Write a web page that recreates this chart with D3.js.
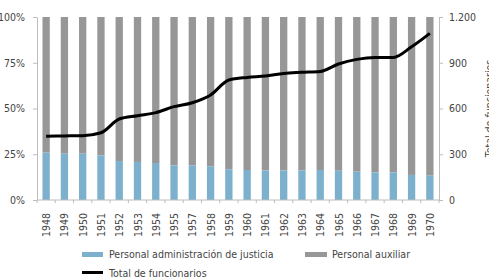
<!DOCTYPE html>
<html>
<head>
<meta charset="utf-8">
<script src="https://cdn.jsdelivr.net/npm/d3@7"></script>
<style>
  html, body { margin: 0; padding: 0; background: #fff; }
  svg { display: block; }
  text { font-family: "Liberation Sans Narrow", "DejaVu Sans Condensed", "Open Sans", sans-serif; fill: #444; }
</style>
</head>
<body>
<svg id="chart" width="489" height="279"></svg>
<script>
const years = ["1948","1949","1950","1951","1952","1953","1954","1955","1957","1958","1959","1960","1961","1962","1963","1964","1965","1966","1967","1968","1969","1970"];
const justiciaPct = [25.9,25.3,25.3,24.4,21.3,20.8,20.2,18.9,18.9,18.4,16.8,16.4,16.2,16.2,16.2,16.4,16.0,15.5,15.1,15.1,13.7,13.3];
const auxiliarPct = justiciaPct.map(v => 100 - v);
const totalFuncionarios = [418,420,422,441,531,553,573,612,638,689,787,804,813,830,837,843,892,922,935,935,1005,1093];
const leftTicks = [0,25,50,75,100];
const rightTicks = [0,300,600,900,1200];
const seriesNames = ["Personal administración de justicia","Personal auxiliar","Total de funcionarios"];
const colors = { justicia: "#7cb0cc", auxiliar: "#979797", total: "#000000", axis: "#bdbdbd" };
const FS = "10.5px";

const svg = d3.select("#chart");
const m = { left: 37, right: 439, top: 17, bottom: 200 };

const x = d3.scaleBand().domain(years).range([m.left, m.right]).paddingInner(0.6).paddingOuter(0.3);
const yL = d3.scaleLinear().domain([0,100]).range([m.bottom, m.top]);
const yR = d3.scaleLinear().domain([0,1200]).range([m.bottom, m.top]);

// bars
const data = years.map((y,i) => ({ year: y, j: justiciaPct[i], a: auxiliarPct[i], t: totalFuncionarios[i] }));
const g = svg.append("g");
g.selectAll("rect.aux").data(data).enter().append("rect")
  .attr("x", d => x(d.year)).attr("width", x.bandwidth())
  .attr("y", d => yL(d.j + d.a)).attr("height", d => yL(d.j) - yL(d.j + d.a))
  .attr("fill", colors.auxiliar);
g.selectAll("rect.jus").data(data).enter().append("rect")
  .attr("x", d => x(d.year)).attr("width", x.bandwidth())
  .attr("y", d => yL(d.j)).attr("height", d => yL(0) - yL(d.j))
  .attr("fill", colors.justicia);

// line
const line = d3.line().x(d => x(d.year) + x.bandwidth()/2).y(d => yR(d.t)).curve(d3.curveMonotoneX);
svg.append("path").datum(data).attr("d", line).attr("fill","none")
  .attr("stroke", colors.total).attr("stroke-width", 3).attr("stroke-linejoin","round");

// axes
const styleAxis = sel => {
  sel.select(".domain").attr("stroke", colors.axis);
  sel.selectAll(".tick line").attr("stroke", colors.axis);
  sel.selectAll("text").style("font-size", FS).attr("fill","#444");
};
const leftAxis = svg.append("g").attr("transform", `translate(${m.left},0)`)
  .call(d3.axisLeft(yL).tickValues(leftTicks).tickFormat(d => d + "%").tickSize(4).tickSizeOuter(0).tickPadding(8));
styleAxis(leftAxis);

const rightAxis = svg.append("g").attr("transform", `translate(${m.right},0)`)
  .call(d3.axisRight(yR).tickValues(rightTicks).tickFormat(d => d3.format(",")(d).replace(",", ".")).tickSize(4).tickSizeOuter(0).tickPadding(6));
styleAxis(rightAxis);

// x axis: tick marks at band boundaries
const xg = svg.append("g");
xg.append("line").attr("x1", m.left).attr("x2", m.right).attr("y1", m.bottom).attr("y2", m.bottom).attr("stroke", colors.axis);
const bounds = d3.range(years.length + 1).map(i => m.left + (m.right - m.left) * i / years.length);
xg.selectAll("line.tk").data(bounds).enter().append("line")
  .attr("x1", d => d).attr("x2", d => d).attr("y1", m.bottom).attr("y2", m.bottom + 3).attr("stroke", colors.axis);
xg.selectAll("text").data(years).enter().append("text")
  .attr("transform", d => `translate(${x(d) + x.bandwidth()/2 + 4},${m.bottom + 13}) rotate(-90)`)
  .attr("text-anchor", "end").style("font-size", FS).text(d => d);

// right title
svg.append("text").attr("transform", `translate(493,${(m.top + m.bottom)/2}) rotate(-90)`)
  .attr("text-anchor","middle").style("font-size", FS).text("Total de funcionarios");

// legend
const lg = svg.append("g");
lg.append("rect").attr("x", 82).attr("y", 252).attr("width", 21).attr("height", 5).attr("fill", colors.justicia);
lg.append("text").attr("x", 109).attr("y", 258).style("font-size", FS).text(seriesNames[0]);
lg.append("rect").attr("x", 305).attr("y", 252).attr("width", 22).attr("height", 5).attr("fill", colors.auxiliar);
lg.append("text").attr("x", 332).attr("y", 258).style("font-size", FS).text(seriesNames[1]);
lg.append("line").attr("x1", 82).attr("x2", 103).attr("y1", 272.5).attr("y2", 272.5).attr("stroke", colors.total).attr("stroke-width", 3);
lg.append("text").attr("x", 109).attr("y", 276.5).style("font-size", FS).text(seriesNames[2]);
</script>
</body>
</html>
